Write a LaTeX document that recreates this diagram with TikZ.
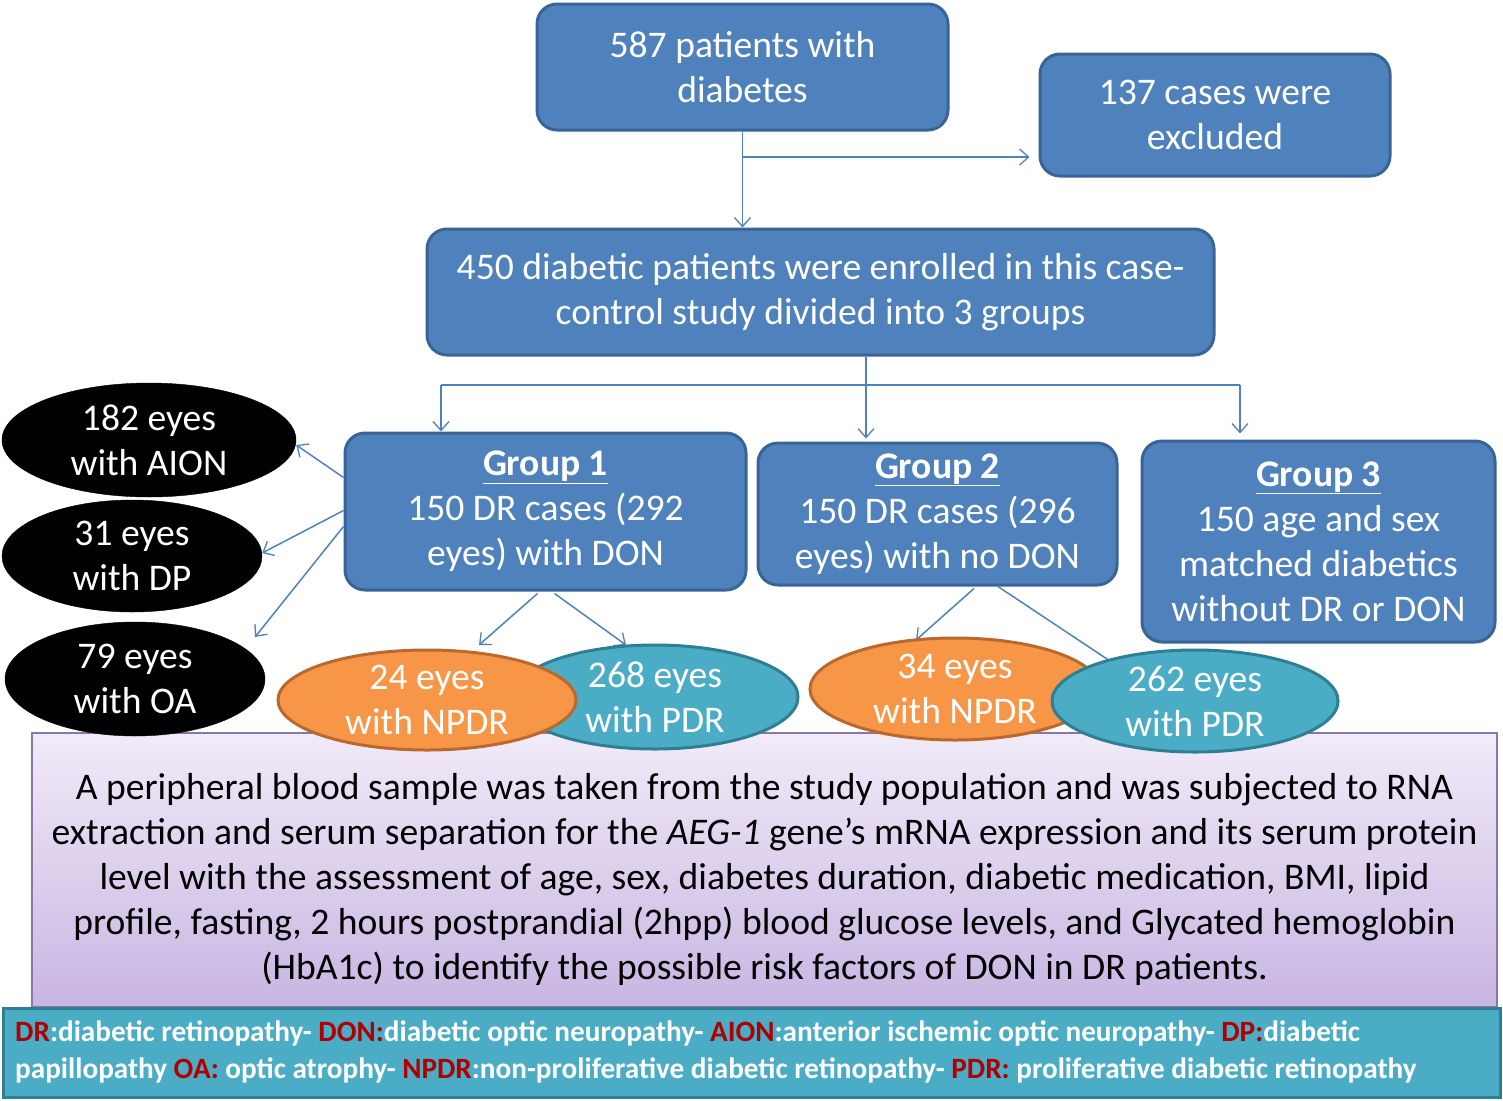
\documentclass[tikz,border=0pt]{standalone}
\usepackage{fontspec}
\setmainfont{Carlito}
\newfontfamily\legendfont[FakeStretch=0.99]{Carlito}
\usetikzlibrary{shapes.geometric,arrows.meta}
\definecolor{bluefill}{HTML}{4F81BD}
\definecolor{blueborder}{HTML}{3A6496}
\definecolor{orangefill}{HTML}{F79646}
\definecolor{orangeborder}{HTML}{B9692E}
\definecolor{tealfill}{HTML}{4BACC6}
\definecolor{tealborder}{HTML}{2F7E93}
\definecolor{purpletop}{HTML}{F1EBF8}
\definecolor{purplebot}{HTML}{C8B5E2}
\definecolor{purpleborder}{HTML}{8B76A8}
\definecolor{legred}{HTML}{B00000}
\newcommand{\mainsz}{\fontsize{37.6}{45}\selectfont}
\begin{document}
\begin{tikzpicture}[x=1pt,y=-1pt,
  bbox/.style={draw=blueborder, line width=3pt, fill=bluefill, rounded corners=20pt,
    text=white, font=\mainsz, align=center, inner sep=0pt},
  blackell/.style={ellipse, fill=black, draw=black, text=white, font=\mainsz,
    align=center, inner sep=0pt},
  orangeell/.style={ellipse, fill=orangefill, draw=orangeborder, line width=3pt,
    text=white, font=\mainsz, align=center, inner sep=0pt},
  tealell/.style={ellipse, fill=tealfill, draw=tealborder, line width=3pt,
    text=white, font=\mainsz, align=center, inner sep=0pt},
  conn/.style={draw=bluefill, line width=1.5pt},
  arr/.style={conn, -{Straight Barb[length=9pt,width=16pt,line width=1.3pt]}},
  legline/.style={anchor=west, inner sep=0pt, text=white,
    font=\legendfont\bfseries\fontsize{29.5}{34}\selectfont}
]
\useasboundingbox (0,0) rectangle (1503,1100);
\fill[white] (0,0) rectangle (1503,1100);

% purple description box
\node[draw=purpleborder, line width=1.2pt, top color=purpletop, bottom color=purplebot,
  minimum width=1465pt, minimum height=274pt, inner sep=0pt] (desc) at (764.5,870) {};
\node[font=\mainsz, align=center, text=black] (desctext) at (764.5,879) {%
A peripheral blood sample was taken from the study population and was subjected to RNA\\
extraction and serum separation for the \textit{AEG-1} gene's mRNA expression and its serum protein\\
level with the assessment of age, sex, diabetes duration, diabetic medication, BMI, lipid\\
profile, fasting, 2 hours postprandial (2hpp) blood glucose levels, and Glycated hemoglobin\\
(HbA1c) to identify the possible risk factors of DON in DR patients.};

% legend box
\node[draw=tealborder, line width=3pt, fill=tealfill, minimum width=1497pt,
  minimum height=89pt, inner sep=0pt] (legend) at (751.5,1052.5) {};
\node[legline] (leg1) at (15,1033) {\textcolor{legred}{DR}:diabetic retinopathy- \textcolor{legred}{DON:}diabetic optic neuropathy- \textcolor{legred}{AION}:anterior ischemic optic neuropathy- \textcolor{legred}{DP:}diabetic};
\node[legline] (leg2) at (15,1070) {papillopathy \textcolor{legred}{OA:} optic atrophy- \textcolor{legred}{NPDR}:non-proliferative diabetic retinopathy- \textcolor{legred}{PDR:} proliferative diabetic retinopathy};

% boxes
\node[bbox, minimum width=411pt, minimum height=126pt] (A) at (742.5,67) {587 patients with\\diabetes};
\node[bbox, minimum width=350pt, minimum height=122pt] (B) at (1215,115) {137 cases were\\excluded};
\node[bbox, minimum width=787pt, minimum height=126pt] (C) at (820.5,292) {450 diabetic patients were enrolled in this case-\\control study divided into 3 groups};
\node[bbox, minimum width=401pt, minimum height=157pt] (G1) at (545.5,511.5) {\textbf{\underline{Group 1}}\\150 DR cases (292\\eyes) with DON};
\node[bbox, minimum width=359pt, minimum height=142pt] (G2) at (937.5,514) {\textbf{\underline{Group 2}}\\150 DR cases (296\\eyes) with no DON};
\node[bbox, minimum width=353pt, minimum height=201pt] (G3) at (1318.5,541.5) {\textbf{\underline{Group 3}}\\150 age and sex\\matched diabetics\\without DR or DON};

% connectors top
\coordinate (branch) at (743,157);
\draw[arr] (A.south) -- (A.south |- C.north);
\draw[arr, shorten >=9pt] (branch) -- (branch -| B.west);
\coordinate (split) at (866,385);
\draw[conn] (split |- C.south) -- (split);
\draw[conn] ([shift={(-104.5,0)}]G1.north |- split) -- ([shift={(-78.5,0)}]G3.north |- split);
\draw[arr] ([shift={(-104.5,0)}]G1.north |- split) -- ([shift={(-104.5,0)}]G1.north);
\draw[arr, shorten >=3pt] (split) -- ([shift={(-71.5,0)}]G2.north);
\draw[arr, shorten >=6pt] ([shift={(-78.5,0)}]G3.north |- split) -- ([shift={(-78.5,0)}]G3.north);

% ellipses (black)
\node[blackell, minimum width=294pt, minimum height=114pt] (AION) at (149,440) {182 eyes\\with AION};
\node[blackell, minimum width=260pt, minimum height=112pt] (DP) at (132,556) {31 eyes\\with DP};
\node[blackell, minimum width=260pt, minimum height=114pt] (OA) at (135,679) {79 eyes\\with OA};

% connectors to black ellipses
\draw[arr] ([shift={(0,-34)}]G1.west) -- ([shift={(0,5)}]AION.east);
\draw[arr] ([shift={(0,-1)}]G1.west) -- ([shift={(0,-3)}]DP.east);
\draw[arr] ([shift={(0,15)}]G1.west) -- ([shift={(120,-42)}]OA.center);

% connectors to lower ellipses
\coordinate (o24c) at (427,700);
\coordinate (t268c) at (655,697);
\coordinate (o34c) at (955,689);
\coordinate (t262c) at (1195,701);
\draw[arr] ([shift={(-8,2)}]G1.south) -- ([shift={(52,-55)}]o24c);
\draw[arr] ([shift={(9,2)}]G1.south) -- ([shift={(-29,-52)}]t268c);
\draw[arr] ([shift={(36.5,2)}]G2.south) -- ([shift={(-39,-49)}]o34c);
\draw[arr] ([shift={(60.5,0)}]G2.south) -- ([shift={(-70,-30)}]t262c);

% lower ellipses
\node[tealell, minimum width=286pt, minimum height=104pt] (T268) at (t268c) {268 eyes\\with PDR};
\node[orangeell, minimum width=298pt, minimum height=100pt] (O24) at (o24c) {24 eyes\\with NPDR};
\node[orangeell, minimum width=290pt, minimum height=102pt] (O34) at (o34c) {34 eyes\\with NPDR};
\node[tealell, minimum width=286pt, minimum height=102pt] (T262) at (t262c) {262 eyes\\with PDR};
\end{tikzpicture}
\end{document}
